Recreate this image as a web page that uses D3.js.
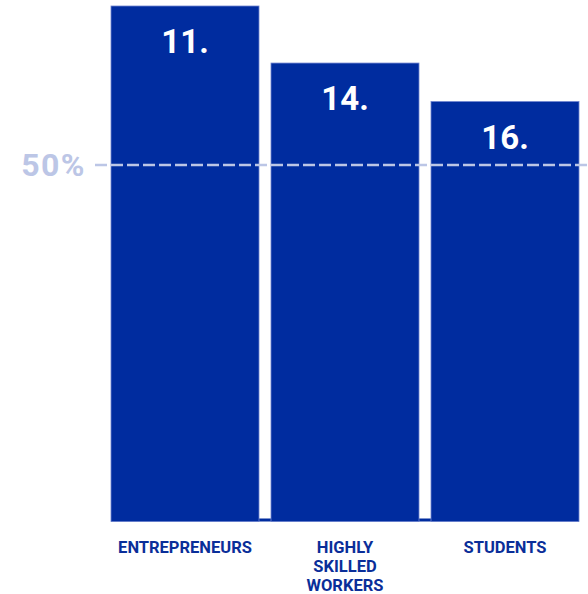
<!DOCTYPE html>
<html>
<head>
<meta charset="utf-8">
<script src="https://cdn.jsdelivr.net/npm/d3@7"></script>
<style>
  html, body { margin: 0; padding: 0; background: #fff; }
  svg { display: block; }
</style>
</head>
<body>
<div id="chart"></div>
<script>
const categories = ["ENTREPRENEURS", "HIGHLY SKILLED WORKERS", "STUDENTS"];
const categoryLines = [["ENTREPRENEURS"], ["HIGHLY", "SKILLED", "WORKERS"], ["STUDENTS"]];
const values = [72.3, 64.3, 58.9];
const ranks = ["11.", "14.", "16."];
const referenceValue = 50;
const referenceLabel = "50%";

const W = 588, H = 594;
const svg = d3.select("#chart").append("svg").attr("width", W).attr("height", H);

const x = d3.scaleBand().domain(categories).range([111, 579]).paddingInner(0.075).paddingOuter(0);
const y = d3.scaleLinear().domain([0, 50]).range([521.5, 165]);

const barColor = "#002c9f";
const labelColor = "#0a2e99";
const refColor = "#bcc6e6";

// baseline band joining the bars
svg.append("rect")
  .attr("x", x.range()[0]).attr("width", x.range()[1] - x.range()[0])
  .attr("y", y(0) - 3).attr("height", 3)
  .attr("fill", barColor);

svg.append("g").selectAll("rect").data(categories).join("rect")
  .attr("x", d => x(d))
  .attr("width", x.bandwidth())
  .attr("y", (d, i) => y(values[i]))
  .attr("height", (d, i) => y(0) - y(values[i]))
  .attr("fill", barColor)
  .attr("stroke", "#6f84cf")
  .attr("stroke-width", 0.8);

// reference dashed line
svg.append("line")
  .attr("x1", 95).attr("x2", W)
  .attr("y1", y(referenceValue)).attr("y2", y(referenceValue))
  .attr("stroke", refColor).attr("stroke-width", 2.6)
  .attr("stroke-dasharray", "12 4");

svg.append("text")
  .attr("x", 86).attr("y", y(referenceValue) + 11)
  .attr("text-anchor", "end")
  .attr("font-family", "Roboto, sans-serif").attr("font-weight", 700)
  .attr("font-size", 32).attr("letter-spacing", 1.5).attr("fill", refColor)
  .text(referenceLabel);

// rank labels
svg.append("g").selectAll("text").data(categories).join("text")
  .attr("x", d => x(d) + x.bandwidth() / 2)
  .attr("y", (d, i) => y(values[i]) + 47)
  .attr("text-anchor", "middle")
  .attr("font-family", "Roboto, sans-serif").attr("font-weight", 700)
  .attr("font-size", 33).attr("fill", "#fff")
  .text((d, i) => ranks[i]);

// category labels
const lab = svg.append("g").selectAll("text").data(categories).join("text")
  .attr("x", d => x(d) + x.bandwidth() / 2)
  .attr("y", 553)
  .attr("text-anchor", "middle")
  .attr("font-family", "Roboto, sans-serif").attr("font-weight", 700)
  .attr("font-size", 16.5).attr("fill", labelColor);
lab.selectAll("tspan").data((d, i) => categoryLines[i]).join("tspan")
  .attr("x", function() { return d3.select(this.parentNode).attr("x"); })
  .attr("dy", (d, j) => j === 0 ? 0 : 19)
  .text(d => d);
</script>
</body>
</html>
